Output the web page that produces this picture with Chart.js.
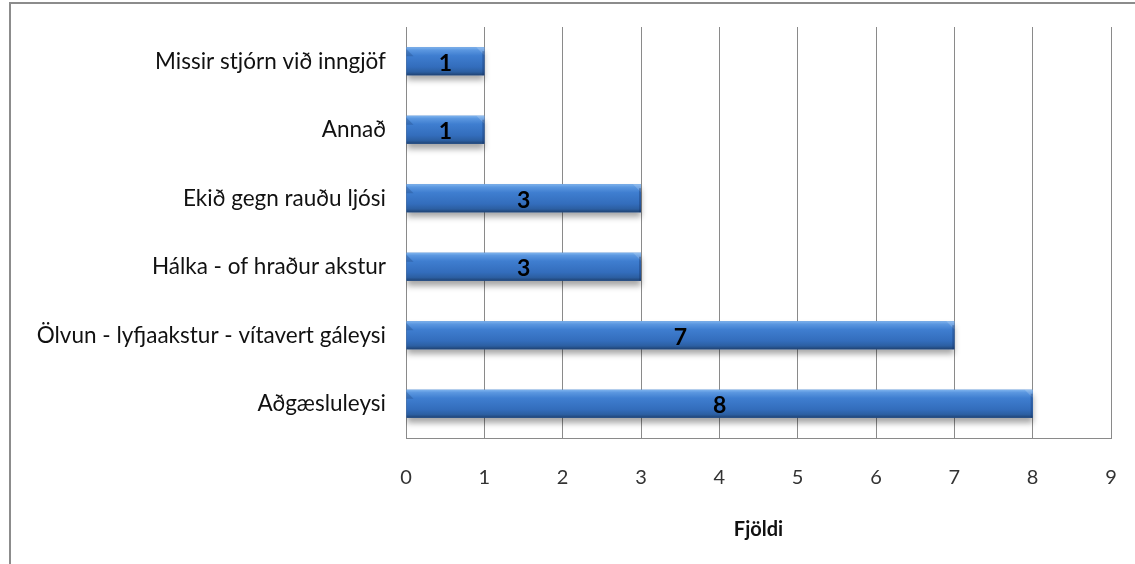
<!DOCTYPE html>
<html>
<head>
<meta charset="utf-8">
<script src="https://cdn.jsdelivr.net/npm/chart.js@4/dist/chart.umd.min.js"></script>
<style>
  html, body { margin: 0; padding: 0; background: #fff; overflow: hidden; }
  #wrap { position: relative; width: 1135px; height: 564px; }
  #frame {
    position: absolute; left: 9px; top: 2px; width: 1200px; height: 600px;
    border-left: 2px solid #8c8c8c; border-top: 2px solid #8c8c8c;
    pointer-events: none;
  }
</style>
</head>
<body>
<div id="wrap">
  <canvas id="chart" width="1135" height="564"></canvas>
  <div id="frame"></div>
</div>
<script>
// Categories top to bottom and their counts
const categories = [
    'Missir stjórn við inngjöf',
    'Annað',
    'Ekið gegn rauðu ljósi',
    'Hálka - of hraður akstur',
    'Ölvun - lyfjaakstur - vítavert gáleysi',
    'Aðgæsluleysi'
];
const counts = [1, 1, 3, 3, 7, 8];
const xTicks = [0, 1, 2, 3, 4, 5, 6, 7, 8, 9];
const xTitle = 'Fjöldi';

const FONT = 'Lato, "Open Sans", sans-serif';

// Drop shadow under the bars
const barShadow = {
    id: 'barShadow',
    beforeDatasetDraw(chart) {
        const ctx = chart.ctx;
        ctx.save();
        ctx.shadowColor = 'rgba(0,0,0,0.35)';
        ctx.shadowBlur = 6;
        ctx.shadowOffsetY = 5;
    },
    afterDatasetDraw(chart) {
        chart.ctx.restore();
    }
};

// Glossy bevel over each bar plus the value label
const barGloss = {
    id: 'barGloss',
    afterDatasetsDraw(chart) {
        const ctx = chart.ctx;
        const meta = chart.getDatasetMeta(0);
        meta.data.forEach((bar, i) => {
            const left = bar.base, right = bar.x;
            const top = bar.y - bar.height / 2, h = bar.height;
            ctx.save();
            const g = ctx.createLinearGradient(0, top, 0, top + h);
            g.addColorStop(0, '#7fb4ee');
            g.addColorStop(0.1, '#5b97e0');
            g.addColorStop(0.3, '#3f7ed0');
            g.addColorStop(0.7, '#336dbc');
            g.addColorStop(0.88, '#2c5fa2');
            g.addColorStop(1, '#1f4272');
            ctx.fillStyle = g;
            ctx.fillRect(left, top, right - left, h);
            // bevelled ends
            ctx.fillStyle = 'rgba(255,255,255,0.18)';
            ctx.beginPath();
            ctx.moveTo(right, top);
            ctx.lineTo(right, top + 8);
            ctx.lineTo(right - 8, top);
            ctx.closePath();
            ctx.fill();
            ctx.fillStyle = 'rgba(20,50,100,0.35)';
            ctx.fillRect(right - 2, top + 4, 2, h - 4);
            ctx.fillStyle = 'rgba(20,50,100,0.25)';
            ctx.beginPath();
            ctx.moveTo(left, top + 2);
            ctx.lineTo(left + 7, top + 9);
            ctx.lineTo(left, top + 9);
            ctx.closePath();
            ctx.fill();
            // value label
            ctx.fillStyle = '#000';
            ctx.font = 'bold 23px ' + FONT;
            ctx.textAlign = 'center';
            ctx.textBaseline = 'middle';
            ctx.fillText(String(counts[i]), (left + right) / 2, bar.y + 2);
            ctx.restore();
        });
    }
};

new Chart(document.getElementById('chart'), {
    type: 'bar',
    data: {
        labels: categories,
        datasets: [{
            data: counts,
            backgroundColor: '#336dbc',
            borderWidth: 0,
            barPercentage: 0.41,
            categoryPercentage: 1.0
        }]
    },
    options: {
        indexAxis: 'y',
        responsive: false,
        animation: false,
        layout: { padding: { top: 27, right: 24, left: 0, bottom: 0 } },
        plugins: {
            legend: { display: false },
            tooltip: { enabled: false }
        },
        scales: {
            x: {
                min: 0,
                max: 9,
                afterBuildTicks(scale) {
                    scale.ticks = xTicks.map(v => ({ value: v }));
                },
                afterFit(scale) {
                    scale.height = 126;
                    scale.paddingLeft = 0;
                    scale.paddingRight = 0;
                },
                grid: { color: '#8a8a8a', lineWidth: 1, drawTicks: false },
                border: { color: '#8a8a8a', width: 1 },
                ticks: {
                    color: '#333',
                    font: { family: FONT, size: 20 },
                    padding: 28
                },
                title: {
                    display: true,
                    text: xTitle,
                    color: '#111',
                    font: { family: FONT, size: 20, weight: 'bold' },
                    padding: { top: 4, bottom: 22 }
                }
            },
            y: {
                afterFit(scale) {
                    scale.width = 406;
                    scale.paddingTop = 0;
                    scale.paddingBottom = 0;
                },
                grid: { display: false, drawTicks: false },
                border: { color: '#8a8a8a', width: 1 },
                ticks: {
                    color: '#111',
                    font: { family: FONT, size: 22.5 },
                    padding: 20
                }
            }
        }
    },
    plugins: [barShadow, barGloss]
});
</script>
</body>
</html>
